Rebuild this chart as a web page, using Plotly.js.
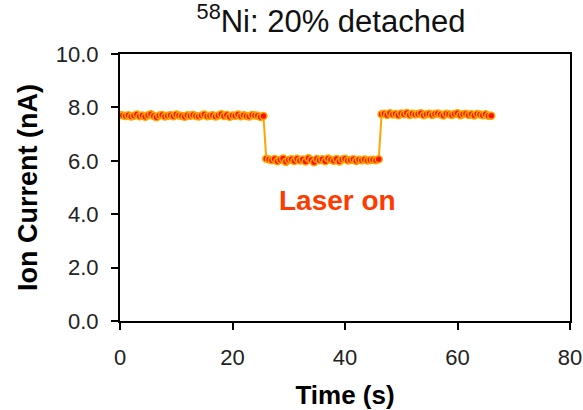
<!DOCTYPE html>
<html>
<head>
<meta charset="utf-8">
<script src="https://cdn.plot.ly/plotly-3.0.1.min.js"></script>
<style>html,body{margin:0;padding:0;background:#fff;}#chart{width:583px;height:410px;}</style>
</head>
<body>
<div id="chart"></div>
<script>
// Time (s)
const timeBefore = [0,0.5,1,1.5,2,2.5,3,3.5,4,4.5,5,5.5,6,6.5,7,7.5,8,8.5,9,9.5,
  10,10.5,11,11.5,12,12.5,13,13.5,14,14.5,15,15.5,16,16.5,17,17.5,18,18.5,19,19.5,
  20,20.5,21,21.5,22,22.5,23,23.5,24,24.5,25,25.5];
const currentBefore = [7.72,7.70,7.68,7.71,7.66,7.69,7.73,7.67,7.70,7.65,
  7.71,7.74,7.68,7.63,7.70,7.72,7.66,7.69,7.71,7.67,
  7.73,7.70,7.68,7.65,7.71,7.69,7.72,7.68,7.66,7.70,
  7.73,7.67,7.69,7.71,7.66,7.70,7.74,7.68,7.72,7.65,
  7.70,7.69,7.73,7.67,7.71,7.68,7.66,7.72,7.70,7.69,
  7.64,7.68];
const timeLaser = [26,26.5,27,27.5,28,28.5,29,29.5,30,30.5,31,31.5,32,32.5,33,33.5,34,34.5,35,35.5,
  36,36.5,37,37.5,38,38.5,39,39.5,40,40.5,41,41.5,42,42.5,43,43.5,44,44.5,45,45.5,46];
const currentLaser = [6.08,6.05,6.02,6.07,5.98,6.04,6.09,5.96,6.03,6.06,
  5.99,6.08,6.01,6.05,5.97,6.10,6.03,5.95,6.07,6.02,
  6.06,5.98,6.09,6.04,6.00,6.07,5.97,6.05,6.08,6.01,
  6.03,6.06,5.99,6.04,6.02,6.05,6.01,6.03,6.04,6.02,
  6.06];
const timeAfter = [46.5,47,47.5,48,48.5,49,49.5,50,50.5,51,51.5,52,52.5,53,53.5,54,54.5,55,55.5,56,
  56.5,57,57.5,58,58.5,59,59.5,60,60.5,61,61.5,62,62.5,63,63.5,64,64.5,65,65.5,66];
const currentAfter = [7.74,7.76,7.72,7.78,7.73,7.75,7.71,7.77,7.74,7.79,
  7.72,7.76,7.73,7.75,7.78,7.71,7.74,7.76,7.72,7.75,
  7.77,7.73,7.70,7.76,7.74,7.72,7.75,7.78,7.71,7.74,
  7.76,7.72,7.74,7.70,7.75,7.73,7.71,7.74,7.69,7.69];

const xTicks = [0,20,40,60,80];
const yTicks = [0,2,4,6,8,10];
const titleText = "<sup>58</sup>Ni: 20% detached";
const xTitle = "<b>Time (s)</b>";
const yTitle = "<b>Ion Current (nA)</b>";
const annoText = "<b>Laser on</b>";

const times = timeBefore.concat(timeLaser, timeAfter);
const currents = currentBefore.concat(currentLaser, currentAfter);

const font = '"Liberation Sans", Arial, sans-serif';

const trace = {
  x: times, y: currents, type: 'scatter', mode: 'lines+markers',
  line: {color: '#FFA500', width: 2},
  marker: {color: '#FF1000', size: 7, line: {color: '#FFA500', width: 1.5}},
  hoverinfo: 'skip'
};

const layout = {
  width: 583, height: 410,
  margin: {l: 120, r: 13, t: 54, b: 89},
  paper_bgcolor: '#fff', plot_bgcolor: '#fff',
  showlegend: false,
  font: {family: font, color: '#222'},
  title: {text: titleText, font: {family: font, size: 31, color: '#111'},
          x: 331/583, xanchor: 'center', y: 1 - 21/410, yanchor: 'middle', yref: 'container', xref: 'container'},
  xaxis: {
    range: [0, 80], tickvals: xTicks, ticktext: xTicks.map(String),
    showgrid: false, zeroline: false,
    showline: true, linecolor: '#000', linewidth: 2, mirror: true,
    ticks: 'outside', ticklen: 7, tickwidth: 2, tickcolor: '#000',
    tickfont: {family: font, size: 22, color: '#222'},
    ticklabelstandoff: 9,
    title: {text: xTitle, font: {family: font, size: 26, color: '#000'}, standoff: 18}
  },
  yaxis: {
    range: [0, 10], tickvals: yTicks, ticktext: yTicks.map(v => v.toFixed(1)),
    showgrid: false, zeroline: false,
    showline: true, linecolor: '#000', linewidth: 2, mirror: true,
    ticks: 'outside', ticklen: 7, tickwidth: 2, tickcolor: '#000',
    tickfont: {family: font, size: 22, color: '#222'},
    ticklabelstandoff: 8,
    title: {text: yTitle, font: {family: font, size: 27, color: '#000'}, standoff: 10}
  },
  annotations: [{
    x: 38.6, y: 4.53, xref: 'x', yref: 'y', text: annoText, showarrow: false,
    font: {family: font, size: 28, color: '#FF3C00'}, xanchor: 'center', yanchor: 'middle'
  }]
};

Plotly.newPlot('chart', [trace], layout, {displayModeBar: false, staticPlot: true});
</script>
</body>
</html>
